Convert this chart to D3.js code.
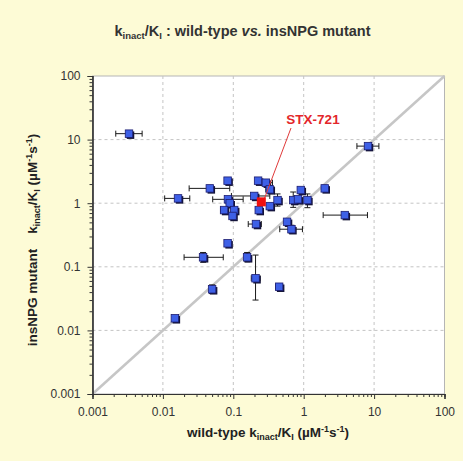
<!DOCTYPE html>
<html>
<head>
<meta charset="utf-8">
<script src="https://cdn.jsdelivr.net/npm/d3@7"></script>
<style>
  html, body { margin: 0; padding: 0; background: #fdfbd6; }
  svg { display: block; font-family: "Liberation Sans", Arial, sans-serif; }
</style>
</head>
<body>
<svg id="chart" width="463" height="461"></svg>
<script>
// kinact/KI for each compound: wild-type (x) vs. insNPG mutant (y), µM^-1 s^-1
const wildType = [0.0033, 8.2, 0.0164, 0.0464, 0.083, 0.084, 0.089, 0.074, 0.103, 0.0975,
  0.21, 0.225, 0.29, 0.33, 0.198, 0.23, 0.33, 0.425, 0.91, 0.71,
  0.83, 1.13, 1.99, 3.84, 0.58, 0.67, 0.0372, 0.083, 0.157, 0.207,
  0.448, 0.05, 0.0148];
const mutant = [12.4, 7.9, 1.19, 1.71, 2.26, 1.15, 1.0, 0.78, 0.78, 0.63,
  0.47, 2.26, 2.1, 1.65, 1.30, 0.78, 0.90, 1.12, 1.61, 1.12,
  1.15, 1.12, 1.71, 0.65, 0.51, 0.39, 0.141, 0.234, 0.141, 0.066,
  0.0486, 0.0443, 0.0155];
// error-bar limits (null = no bar drawn)
const wildTypeLow = [0.00214, 5.7, 0.0106, 0.0236, null, 0.051, null, 0.066, null, null,
  0.163, null, 0.245, 0.29, 0.094, null, null, null, null, null,
  null, null, null, 1.89, null, 0.457, 0.02, null, null, 0.18,
  0.40, null, null];
const wildTypeHigh = [0.00507, 11.7, 0.0241, 0.089, null, 0.138, null, 0.083, null, null,
  0.25, null, 0.36, 0.38, 0.33, null, null, null, null, null,
  null, null, null, 8.05, null, 0.96, 0.072, null, null, 0.24,
  0.50, null, null];
const mutantLow = [null, null, null, null, null, null, null, null, null, null,
  null, null, null, 1.45, null, null, null, 0.9, null, 0.86,
  null, 0.85, null, null, null, 0.34, 0.118, null, 0.12, 0.030,
  null, 0.038, null];
const mutantHigh = [null, null, null, null, null, null, null, null, null, null,
  null, null, null, 1.9, null, null, null, 1.4, null, 1.5,
  null, 1.4, null, null, null, 0.45, 0.168, null, 0.168, 0.153,
  null, 0.052, null];

// highlighted compound
const highlightName = "STX-721";
const highlightWT = 0.25;
const highlightMut = 1.05;

const decadeTicks = [0.001, 0.01, 0.1, 1, 10, 100];
const tickLabels = ["0.001", "0.01", "0.1", "1", "10", "100"];

const points = wildType.map((v, i) => ({
  x: v, y: mutant[i],
  xl: wildTypeLow[i], xh: wildTypeHigh[i],
  yl: mutantLow[i], yh: mutantHigh[i]
}));

const svg = d3.select("#chart");
const L = 92.5, R = 444.5, T = 76, B = 394;

const x = d3.scaleLog().domain([0.001, 100]).range([L, R]);
const y = d3.scaleLog().domain([0.001, 100]).range([B, T]);

// minor log ticks (2..9 in every decade)
const minorTicks = [];
for (let e = -3; e < 2; e++) for (let m = 2; m <= 9; m++) minorTicks.push(m * Math.pow(10, e));

// plot area
svg.append("rect").attr("x", L).attr("y", T).attr("width", R - L).attr("height", B - T)
  .attr("fill", "#ffffff").attr("stroke", "#b5b5b5").attr("stroke-width", 1);

// dashed gridlines at decades
const grid = svg.append("g").attr("stroke", "#c4c4c4").attr("stroke-dasharray", "3,3").attr("stroke-width", 1);
decadeTicks.slice(1, -1).forEach(v => {
  grid.append("line").attr("x1", x(v)).attr("x2", x(v)).attr("y1", T).attr("y2", B);
  grid.append("line").attr("x1", L).attr("x2", R).attr("y1", y(v)).attr("y2", y(v));
});

// line of identity
svg.append("line")
  .attr("x1", x(0.001)).attr("y1", y(0.001)).attr("x2", x(100)).attr("y2", y(100))
  .attr("stroke", "#c6c6c6").attr("stroke-width", 2.5);

// axes
const fmt = v => tickLabels[decadeTicks.indexOf(v)];
const xMajor = d3.axisBottom(x).tickValues(decadeTicks).tickFormat(fmt).tickSize(5).tickPadding(8);
const xMinor = d3.axisBottom(x).tickValues(minorTicks).tickFormat("").tickSize(3);
const yMajor = d3.axisLeft(y).tickValues(decadeTicks).tickFormat(fmt).tickSize(5).tickPadding(7);
const yMinor = d3.axisLeft(y).tickValues(minorTicks).tickFormat("").tickSize(3);

function styleAxis(g) {
  g.select(".domain").attr("stroke", "#333").attr("stroke-width", 1.2);
  g.selectAll(".tick line").attr("stroke", "#333");
  g.selectAll("text").attr("font-family", "Liberation Sans, Arial, sans-serif")
    .attr("font-size", 12).attr("fill", "#333");
}
svg.append("g").attr("transform", `translate(0,${B})`).call(xMinor).call(styleAxis);
svg.append("g").attr("transform", `translate(0,${B})`).call(xMajor).call(styleAxis);
svg.append("g").attr("transform", `translate(${L},0)`).call(yMinor).call(styleAxis);
svg.append("g").attr("transform", `translate(${L},0)`).call(yMajor).call(styleAxis);

// error bars
const cap = 3;
const eb = svg.append("g").attr("stroke", "#1a1a1a").attr("stroke-width", 1);
points.forEach(p => {
  if (p.xl != null) {
    const cy = y(p.y);
    eb.append("line").attr("x1", x(p.xl)).attr("x2", x(p.xh)).attr("y1", cy).attr("y2", cy);
    eb.append("line").attr("x1", x(p.xl)).attr("x2", x(p.xl)).attr("y1", cy - cap).attr("y2", cy + cap);
    eb.append("line").attr("x1", x(p.xh)).attr("x2", x(p.xh)).attr("y1", cy - cap).attr("y2", cy + cap);
  }
  if (p.yl != null) {
    const cx = x(p.x);
    eb.append("line").attr("x1", cx).attr("x2", cx).attr("y1", y(p.yl)).attr("y2", y(p.yh));
    eb.append("line").attr("x1", cx - cap).attr("x2", cx + cap).attr("y1", y(p.yl)).attr("y2", y(p.yl));
    eb.append("line").attr("x1", cx - cap).attr("x2", cx + cap).attr("y1", y(p.yh)).attr("y2", y(p.yh));
  }
});

// square markers with a drop shadow
const s = 7.5;
const marks = svg.append("g");
marks.selectAll("rect.shadow").data(points).join("rect").attr("class", "shadow")
  .attr("x", d => x(d.x) - s / 2 + 1.5).attr("y", d => y(d.y) - s / 2 + 1.5)
  .attr("width", s).attr("height", s).attr("fill", "#141436");
marks.selectAll("rect.pt").data(points).join("rect").attr("class", "pt")
  .attr("x", d => x(d.x) - s / 2).attr("y", d => y(d.y) - s / 2)
  .attr("width", s).attr("height", s)
  .attr("fill", "#3e60e6").attr("stroke", "#1c1c70").attr("stroke-width", 0.8);

// highlighted compound + callout
const hx = x(highlightWT), hy = y(highlightMut);
svg.append("line").attr("x1", 291).attr("y1", 128).attr("x2", hx + 3).attr("y2", hy - 3)
  .attr("stroke", "#e03a3a").attr("stroke-width", 1);
svg.append("rect").attr("x", hx - 4.5).attr("y", hy - 4.5).attr("width", 9).attr("height", 9)
  .attr("fill", "#f01010");
svg.append("text").attr("x", 313).attr("y", 124).attr("text-anchor", "middle")
  .attr("font-size", 13.5).attr("font-weight", "bold").attr("fill", "#e3262b").text(highlightName);

// title
const title = svg.append("text").attr("x", 242.5).attr("y", 36).attr("text-anchor", "middle")
  .attr("font-size", 14.5).attr("font-weight", "bold").attr("fill", "#333");
title.append("tspan").text("k");
title.append("tspan").attr("font-size", 9.5).attr("dy", 3).text("inact");
title.append("tspan").attr("dy", -3).text("/K");
title.append("tspan").attr("font-size", 9.5).attr("dy", 3).text("I");
title.append("tspan").attr("dy", -3).text(" : wild-type ");
title.append("tspan").attr("font-style", "italic").text("vs.");
title.append("tspan").text(" insNPG mutant");

// x-axis title
const xt = svg.append("text").attr("x", 268).attr("y", 437).attr("text-anchor", "middle")
  .attr("font-size", 13.5).attr("font-weight", "bold").attr("fill", "#222");
xt.append("tspan").text("wild-type k");
xt.append("tspan").attr("font-size", 9).attr("dy", 3).text("inact");
xt.append("tspan").attr("dy", -3).text("/K");
xt.append("tspan").attr("font-size", 9).attr("dy", 3).text("I");
xt.append("tspan").attr("dy", -3).text(" (µM");
xt.append("tspan").attr("font-size", 9).attr("dy", -5).text("-1");
xt.append("tspan").attr("dy", 5).text("s");
xt.append("tspan").attr("font-size", 9).attr("dy", -5).text("-1");
xt.append("tspan").attr("dy", 5).text(")");

// y-axis title
const yt = svg.append("text").attr("transform", "translate(37,240) rotate(-90)")
  .attr("text-anchor", "middle").attr("font-size", 13.5).attr("font-weight", "bold").attr("fill", "#222")
  .attr("xml:space", "preserve");
yt.append("tspan").text("insNPG mutant    k");
yt.append("tspan").attr("font-size", 9).attr("dy", 3).text("inact");
yt.append("tspan").attr("dy", -3).text("/K");
yt.append("tspan").attr("font-size", 9).attr("dy", 3).text("I");
yt.append("tspan").attr("dy", -3).text(" (µM");
yt.append("tspan").attr("font-size", 9).attr("dy", -5).text("-1");
yt.append("tspan").attr("dy", 5).text("s");
yt.append("tspan").attr("font-size", 9).attr("dy", -5).text("-1");
yt.append("tspan").attr("dy", 5).text(")");
</script>
</body>
</html>
